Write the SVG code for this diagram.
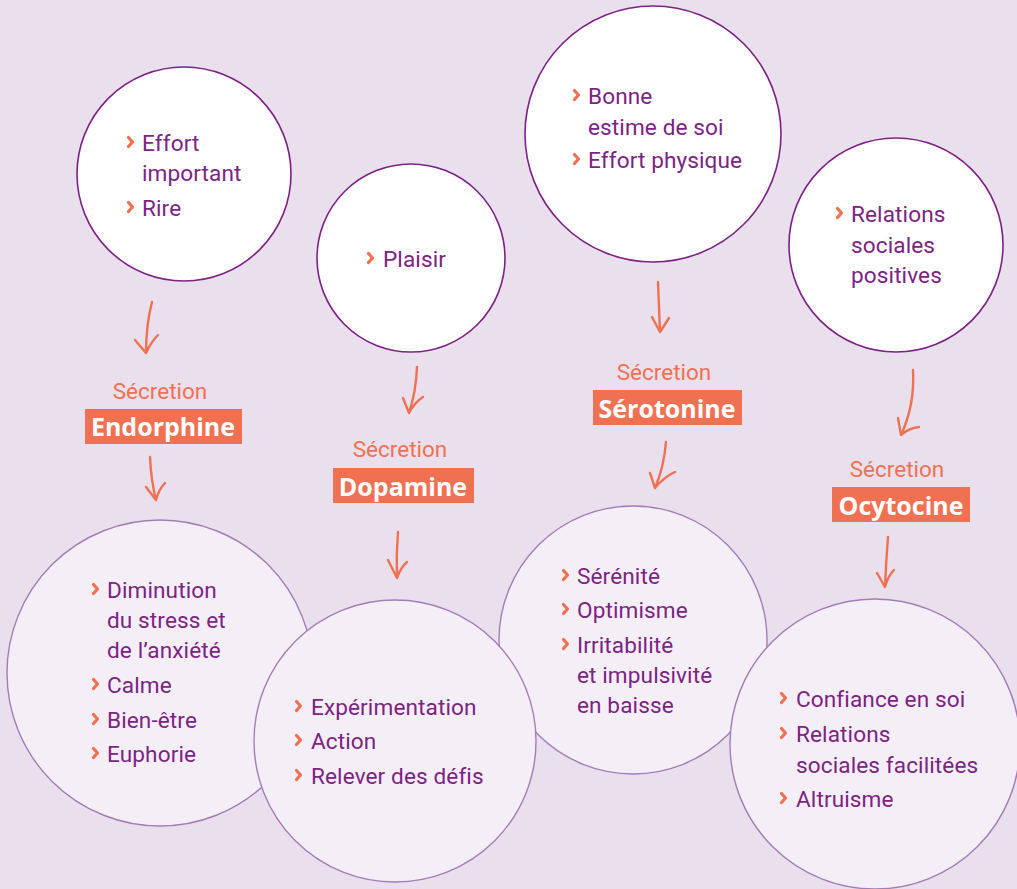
<svg xmlns="http://www.w3.org/2000/svg" width="1017" height="889" viewBox="0 0 1017 889">
<defs>
<style>
.top{fill:#ffffff;stroke:#7d2185;stroke-width:1.6}
.bot{fill:#f4eff7;stroke:#a47db6;stroke-width:1.4}
.t{font-family:Roboto,"Liberation Sans",sans-serif;font-size:22.6px;fill:#7d2384;letter-spacing:0.1px}
.sec{font-family:Roboto,"Liberation Sans",sans-serif;font-size:22.5px;fill:#f07152;text-anchor:middle}
.lab{font-family:"Open Sans","Liberation Sans",sans-serif;font-size:25px;font-weight:700;fill:#ffffff;text-anchor:middle}
.box{fill:#f07152}
.ar{fill:none;stroke:#f07152;stroke-width:2.4;stroke-linecap:round;stroke-linejoin:round}
.bl{fill:none;stroke:#f07152;stroke-width:3.2;stroke-linecap:round;stroke-linejoin:round}
</style>
<path id="b" class="bl" d="M-1.5,-13.5 L2.5,-9 L-1.5,-4.5"/>
</defs>
<rect width="1017" height="889" fill="#e9dfed"/>

<g id="endorphine-cause">
<circle class="top" cx="184" cy="174" r="107"/>
<use href="#b" x="130" y="151"/>
<text class="t" x="142" y="151">Effort</text>
<text class="t" x="142" y="181">important</text>
<use href="#b" x="130" y="216"/>
<text class="t" x="142" y="216">Rire</text>
</g>

<g id="dopamine-cause">
<circle class="top" cx="411" cy="258" r="94"/>
<use href="#b" x="370" y="267"/>
<text class="t" x="383" y="267">Plaisir</text>
</g>

<g id="serotonine-cause">
<circle class="top" cx="653" cy="134" r="128"/>
<use href="#b" x="576" y="104"/>
<text class="t" x="588" y="104">Bonne</text>
<text class="t" x="588" y="135">estime de soi</text>
<use href="#b" x="576" y="168"/>
<text class="t" x="588" y="168">Effort physique</text>
</g>

<g id="ocytocine-cause">
<circle class="top" cx="896" cy="245" r="107"/>
<use href="#b" x="839" y="222"/>
<text class="t" x="851" y="222">Relations</text>
<text class="t" x="851" y="253">sociales</text>
<text class="t" x="851" y="283">positives</text>
</g>

<g id="endorphine-effects">
<circle class="bot" cx="160" cy="673" r="153"/>
<use href="#b" x="95" y="598"/>
<text class="t" x="107" y="598">Diminution</text>
<text class="t" x="107" y="628">du stress et</text>
<text class="t" x="107" y="658">de l’anxiété</text>
<use href="#b" x="95" y="693"/>
<text class="t" x="107" y="693">Calme</text>
<use href="#b" x="95" y="728"/>
<text class="t" x="107" y="728">Bien-être</text>
<use href="#b" x="95" y="762"/>
<text class="t" x="107" y="762">Euphorie</text>
</g>

<g id="serotonine-effects">
<circle class="bot" cx="633" cy="640" r="134"/>
<use href="#b" x="565" y="584"/>
<text class="t" x="577" y="584">Sérénité</text>
<use href="#b" x="565" y="618"/>
<text class="t" x="577" y="618">Optimisme</text>
<use href="#b" x="565" y="653"/>
<text class="t" x="577" y="653">Irritabilité</text>
<text class="t" x="577" y="683">et impulsivité</text>
<text class="t" x="577" y="713">en baisse</text>
</g>

<g id="dopamine-effects">
<circle class="bot" cx="395" cy="741" r="141"/>
<use href="#b" x="298" y="715"/>
<text class="t" x="311" y="715">Expérimentation</text>
<use href="#b" x="298" y="749"/>
<text class="t" x="311" y="749">Action</text>
<use href="#b" x="298" y="784"/>
<text class="t" x="311" y="784">Relever des défis</text>
</g>

<g id="ocytocine-effects">
<circle class="bot" cx="875" cy="744" r="145"/>
<use href="#b" x="783" y="707"/>
<text class="t" x="796" y="707">Confiance en soi</text>
<use href="#b" x="783" y="742"/>
<text class="t" x="796" y="742">Relations</text>
<text class="t" x="796" y="773">sociales facilitées</text>
<use href="#b" x="783" y="807"/>
<text class="t" x="796" y="807">Altruisme</text>
</g>

<g id="label-endorphine">
<text class="sec" x="160" y="399">Sécretion</text>
<rect class="box" x="85" y="409" width="157" height="35"/>
<text class="lab" x="163" y="436">Endorphine</text>
</g>
<g id="label-dopamine">
<text class="sec" x="400" y="457">Sécretion</text>
<rect class="box" x="333" y="468" width="141" height="35"/>
<text class="lab" x="403" y="496">Dopamine</text>
</g>
<g id="label-serotonine">
<text class="sec" x="664" y="380">Sécretion</text>
<rect class="box" x="593" y="390" width="149" height="35"/>
<text class="lab" x="667" y="418">Sérotonine</text>
</g>
<g id="label-ocytocine">
<text class="sec" x="897" y="477">Sécretion</text>
<rect class="box" x="832" y="487" width="138" height="35"/>
<text class="lab" x="901" y="515">Ocytocine</text>
</g>

<g id="connectors">
<path class="ar" d="M152,302 Q146,325 146,353 M135,340 L146,353 Q151,342 158,335"/>
<path class="ar" d="M150,457 Q151,480 156,500 M146,487 L156,500 Q159,489 165,483"/>
<path class="ar" d="M417,367 Q416,392 409,413 M403,398 L409,413 Q415,402 423,397"/>
<path class="ar" d="M398,532 Q396,555 397,578 M388,560 L397,578 Q401,567 407,562"/>
<path class="ar" d="M658,282 Q659,307 660,332 M652,317 L660,332 L669,318"/>
<path class="ar" d="M666,442 Q664,467 655,488 M650,473 L655,488 Q664,477 675,472"/>
<path class="ar" d="M913,370 Q915,405 901,435 M898,418 L901,435 Q909,428 919,427"/>
<path class="ar" d="M888,537 Q886,562 885,587 M877,573 L885,587 Q888,576 894,570"/>
</g>
</svg>
